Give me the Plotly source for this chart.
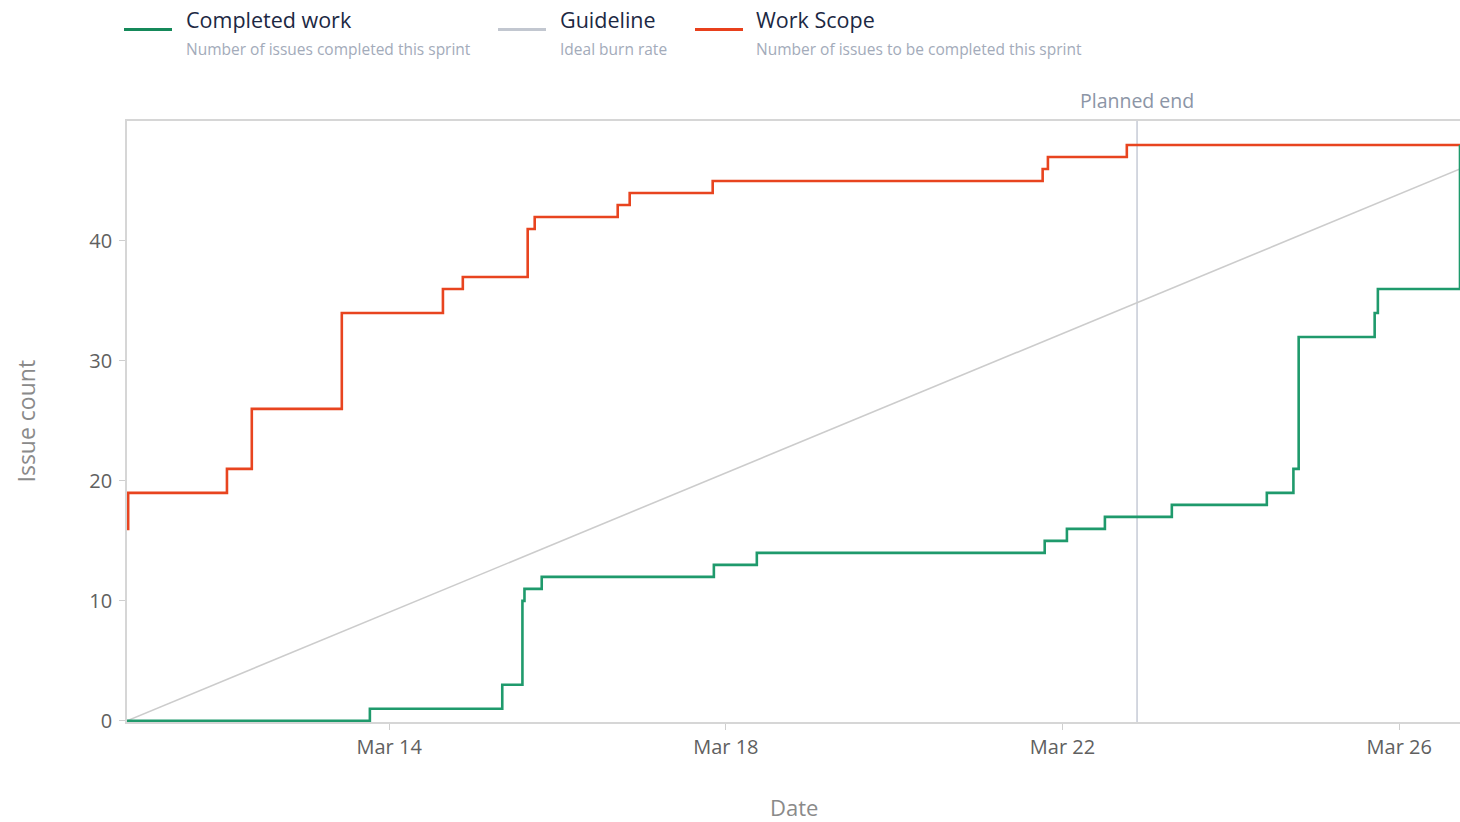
import plotly.graph_objects as go

# ---------------- data ----------------
sprint_start = "2024-03-10 21:15"
planned_end = "2024-03-22 21:15"
view_end = "2024-03-26 17:20"

scope_times = ["2024-03-10 21:15", "2024-03-10 21:35", "2024-03-12 01:45", "2024-03-12 08:50",
               "2024-03-13 10:30", "2024-03-14 15:20", "2024-03-14 21:00", "2024-03-15 15:30",
               "2024-03-15 17:30", "2024-03-16 17:10", "2024-03-16 20:35", "2024-03-17 20:15",
               "2024-03-21 18:20", "2024-03-21 19:50", "2024-03-22 18:20", "2024-03-26 17:20"]
scope_values = [16, 19, 21, 26, 34, 36, 37, 41, 42, 43, 44, 45, 46, 47, 48, 48]

done_times = ["2024-03-10 21:15", "2024-03-13 18:30", "2024-03-15 08:15", "2024-03-15 14:00",
              "2024-03-15 14:35", "2024-03-15 19:30", "2024-03-17 20:35", "2024-03-18 08:50",
              "2024-03-21 18:55", "2024-03-22 01:15", "2024-03-22 12:05", "2024-03-23 07:10",
              "2024-03-24 10:15", "2024-03-24 17:50", "2024-03-24 19:20", "2024-03-25 17:00",
              "2024-03-25 17:55", "2024-03-26 17:20"]
done_values = [0, 1, 3, 10, 11, 12, 13, 14, 15, 16, 17, 18, 19, 21, 32, 34, 36, 48]

guide_times = [sprint_start, view_end]
guide_values = [0, 46]

x_tick_vals = ["2024-03-14", "2024-03-18", "2024-03-22", "2024-03-26"]
x_tick_text = ["Mar 14", "Mar 18", "Mar 22", "Mar 26"]
y_tick_vals = [0, 10, 20, 30, 40]

legend_items = [
    ("Completed work", "Number of issues completed this sprint", "#15895a"),
    ("Guideline", "Ideal burn rate", "#c2c7d0"),
    ("Work Scope", "Number of issues to be completed this sprint", "#e8401c"),
]

# ---------------- styling / layout ----------------
W, H = 1460, 822
L, R, T, B = 127, 0, 121, 100
PW, PH = W - L - R, H - T - B
FONT = "Open Sans"


def px(xp):
    return (xp - L) / PW


def py(yp):
    return (H - B - yp) / PH


GREEN = "#1f9a6c"
RED = "#e8441f"
GUIDE = "#cccccc"

fig = go.Figure()
fig.add_trace(go.Scatter(x=guide_times, y=guide_values, mode="lines",
                         line=dict(color=GUIDE, width=1.6), hoverinfo="skip", showlegend=False))
fig.add_trace(go.Scatter(x=scope_times, y=scope_values, mode="lines", line_shape="hv",
                         line=dict(color=RED, width=2.6), name="Work Scope", showlegend=False))
fig.add_trace(go.Scatter(x=done_times, y=done_values, mode="lines", line_shape="hv",
                         line=dict(color=GREEN, width=2.6), name="Completed work", showlegend=False))

shapes = [
    dict(type="line", xref="x", yref="paper", x0=planned_end, x1=planned_end, y0=0, y1=1,
         line=dict(color="#c6cbd6", width=1.5), layer="below"),
]
annotations = [
    dict(text="Planned end", x=planned_end, xref="x", y=1, yref="paper", yanchor="bottom",
         xanchor="center", yshift=5, showarrow=False,
         font=dict(family=FONT, size=19.5, color="#8c95a6")),
    dict(text="Issue count", x=px(25), xref="paper", y=0.5, yref="paper", textangle=-90,
         xanchor="center", yanchor="middle", showarrow=False,
         font=dict(family=FONT, size=23, color="#8a8a8a")),
    dict(text="Date", x=0.5, xref="paper", y=py(807), yref="paper",
         xanchor="center", yanchor="middle", showarrow=False,
         font=dict(family=FONT, size=22, color="#8a8a8a")),
]

swatch_x = [124, 498, 695]
text_x = [185, 559, 755]
for (title, sub, col), sx, tx in zip(legend_items, swatch_x, text_x):
    shapes.append(dict(type="line", xref="paper", yref="paper", x0=px(sx), x1=px(sx + 48),
                       y0=py(29.5), y1=py(29.5), line=dict(color=col, width=3.2)))
    annotations.append(dict(text=title, x=px(tx - 1), y=py(20), xref="paper", yref="paper",
                            xanchor="left", yanchor="middle", showarrow=False,
                            font=dict(family=FONT, size=21.5, color="#1c2843")))
    annotations.append(dict(text=sub, x=px(tx - 1), y=py(49), xref="paper", yref="paper",
                            xanchor="left", yanchor="middle", showarrow=False,
                            font=dict(family=FONT, size=15.5, color="#a3abba")))

fig.update_layout(
    width=W, height=H,
    margin=dict(l=L, r=R, t=T, b=B, autoexpand=False),
    paper_bgcolor="white", plot_bgcolor="white",
    showlegend=False,
    shapes=shapes, annotations=annotations,
    font=dict(family=FONT, color="#6a6a6a"),
    xaxis=dict(range=[sprint_start, view_end], tickvals=x_tick_vals, ticktext=x_tick_text,
               showgrid=False, zeroline=False, showline=True, mirror=True,
               linecolor="#d6d6d6", linewidth=1.6, ticks="outside", ticklen=6,
               tickcolor="#cfcfcf", tickfont=dict(family=FONT, size=20, color="#606060")),
    yaxis=dict(range=[-0.1, 50], tickvals=y_tick_vals, showgrid=False, zeroline=False,
               showline=True, linecolor="#d6d6d6", linewidth=1.6, ticks="outside",
               ticklen=6, tickcolor="#cfcfcf", ticklabelstandoff=3,
               tickfont=dict(family=FONT, size=20, color="#606060")),
)

fig.write_html("out.html", config={"displayModeBar": False},
               post_script="document.body.style.margin='0';")
